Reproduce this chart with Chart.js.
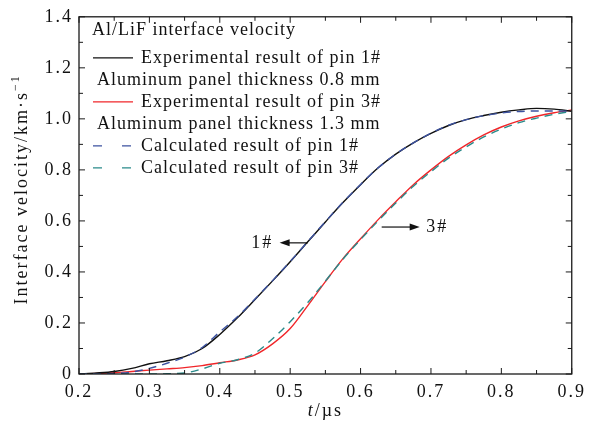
<!DOCTYPE html>
<html>
<head>
<meta charset="utf-8">
<script src="https://cdn.jsdelivr.net/npm/chart.js@4.4.0/dist/chart.umd.min.js"></script>
<style>
  html, body { margin: 0; padding: 0; background: #fff; }
  #wrap { width: 590px; height: 430px; }
</style>
</head>
<body>
<div id="wrap"><canvas id="chart" width="590" height="430"></canvas></div>
<script>
// time axis (µs), shared by all four curves
const times = [0.20, 0.225, 0.25, 0.275, 0.30, 0.325, 0.35, 0.375, 0.40, 0.425, 0.45, 0.475, 0.50, 0.525, 0.55,
               0.575, 0.60, 0.625, 0.65, 0.675, 0.70, 0.725, 0.75, 0.775, 0.80, 0.825, 0.85, 0.875, 0.90];

// interface velocity (km/s)
const expPin1 = [0.000, 0.004, 0.010, 0.022, 0.040, 0.052, 0.068, 0.100, 0.155, 0.220, 0.292, 0.365, 0.440, 0.518, 0.596,
                 0.672, 0.742, 0.808, 0.862, 0.906, 0.943, 0.974, 0.997, 1.013, 1.026, 1.035, 1.041, 1.038, 1.030];
const expPin3 = [0.000, 0.002, 0.005, 0.010, 0.015, 0.020, 0.025, 0.033, 0.044, 0.055, 0.075, 0.118, 0.178, 0.268, 0.362,
                 0.452, 0.530, 0.605, 0.675, 0.742, 0.800, 0.853, 0.898, 0.937, 0.968, 0.992, 1.010, 1.024, 1.035];
const calcPin1 = [0.000, 0.000, 0.002, 0.008, 0.022, 0.042, 0.066, 0.104, 0.165, 0.224, 0.294, 0.366, 0.441, 0.519, 0.597,
                  0.673, 0.743, 0.808, 0.862, 0.906, 0.944, 0.975, 0.997, 1.012, 1.023, 1.029, 1.031, 1.031, 1.030];
const calcPin3 = [0.000, 0.000, 0.000, 0.000, 0.000, 0.001, 0.004, 0.020, 0.042, 0.056, 0.082, 0.138, 0.205, 0.280, 0.364,
                  0.450, 0.527, 0.600, 0.670, 0.736, 0.793, 0.846, 0.890, 0.929, 0.960, 0.985, 1.003, 1.018, 1.030];

const xTicks = [0.2, 0.3, 0.4, 0.5, 0.6, 0.7, 0.8, 0.9];
const yTicks = [0, 0.2, 0.4, 0.6, 0.8, 1.0, 1.2, 1.4];

const legendTitle = "Al/LiF interface velocity";
const legendRows = [
  { text: "Experimental result of pin 1#", color: "#111111", dash: [] },
  { text: "Aluminum panel thickness 0.8 mm" },
  { text: "Experimental result of pin 3#", color: "#f0262a", dash: [] },
  { text: "Aluminum panel thickness 1.3 mm" },
  { text: "Calculated result of pin 1#", color: "#3c52a0", dash: [9, 20] },
  { text: "Calculated result of pin 3#", color: "#2a8a8a", dash: [9, 20] }
];

const FONT = "'Liberation Serif', 'Times New Roman', serif";

function pts(vals) { return times.map((t, i) => ({ x: t, y: vals[i] })); }

function arrow(ctx, x1, x2, y) {
  const dir = Math.sign(x2 - x1);
  ctx.beginPath();
  ctx.moveTo(x1, y);
  ctx.lineTo(x2 - dir * 8, y);
  ctx.stroke();
  ctx.beginPath();
  ctx.moveTo(x2, y);
  ctx.lineTo(x2 - dir * 10, y - 3.5);
  ctx.lineTo(x2 - dir * 10, y + 3.5);
  ctx.closePath();
  ctx.fill();
}

const decor = {
  id: "decor",
  beforeDraw(chart) { chart.ctx.letterSpacing = "2px"; },
  beforeDatasetsDraw(chart) { chart.ctx.letterSpacing = "0px"; },
  afterDraw(chart) {
    const ctx = chart.ctx;
    const a = chart.chartArea;
    const xs = chart.scales.x, ys = chart.scales.y;
    ctx.save();
    ctx.letterSpacing = "0px";

    // frame
    ctx.strokeStyle = "#1a1a1a";
    ctx.lineWidth = 1.3;
    ctx.setLineDash([]);
    ctx.strokeRect(a.left, a.top, a.right - a.left, a.bottom - a.top);

    // inward ticks on all four sides
    ctx.lineWidth = 1;
    ctx.beginPath();
    for (let i = 0; i <= 14; i++) {
      const y = ys.getPixelForValue(i * 0.1);
      const len = i % 2 === 0 ? 6 : 4;
      ctx.moveTo(a.left, y); ctx.lineTo(a.left + len, y);
      ctx.moveTo(a.right, y); ctx.lineTo(a.right - len, y);
    }
    for (let i = 0; i <= 14; i++) {
      const x = xs.getPixelForValue(0.2 + i * 0.05);
      const len = i % 2 === 0 ? 6 : 4;
      ctx.moveTo(x, a.bottom); ctx.lineTo(x, a.bottom - len);
      ctx.moveTo(x, a.top); ctx.lineTo(x, a.top + len);
    }
    ctx.stroke();

    // legend
    ctx.fillStyle = "#111";
    ctx.font = "18px " + FONT;
    ctx.letterSpacing = "1px";
    ctx.textBaseline = "middle";
    ctx.textAlign = "left";
    ctx.fillText(legendTitle, a.left + 13, a.top + 13);
    legendRows.forEach((row, i) => {
      const y = a.top + 41 + i * 22;
      if (row.color) {
        ctx.strokeStyle = row.color;
        ctx.lineWidth = 1.3;
        ctx.setLineDash(row.dash);
        ctx.beginPath();
        ctx.moveTo(a.left + 14, y);
        ctx.lineTo(a.left + 54, y);
        ctx.stroke();
        ctx.setLineDash([]);
        ctx.fillText(row.text, a.left + 62, y);
      } else {
        ctx.fillText(row.text, a.left + 18, y);
      }
    });

    // pin annotations
    ctx.strokeStyle = "#111";
    ctx.lineWidth = 1.2;
    const yA1 = ys.getPixelForValue(0.514);
    arrow(ctx, xs.getPixelForValue(0.525), xs.getPixelForValue(0.485), yA1);
    ctx.textAlign = "center";
    ctx.letterSpacing = "2px";
    ctx.fillText("1#", xs.getPixelForValue(0.459) + 1, yA1);
    const yA3 = ys.getPixelForValue(0.576);
    arrow(ctx, xs.getPixelForValue(0.630), xs.getPixelForValue(0.684), yA3);
    ctx.fillText("3#", xs.getPixelForValue(0.7075) + 1, yA3);

    // x title: t/µs
    ctx.letterSpacing = "2px";
    ctx.font = "italic 18px " + FONT;
    const tw = ctx.measureText("t").width;
    ctx.font = "18px " + FONT;
    const rw = ctx.measureText("/µs").width;
    const cx = (a.left + a.right) / 2;
    let x0 = cx - (tw + rw) / 2;
    ctx.textAlign = "left";
    ctx.font = "italic 18px " + FONT;
    ctx.fillText("t", x0, 411);
    ctx.font = "18px " + FONT;
    ctx.fillText("/µs", x0 + tw, 411);

    // y title: Interface velocity/km·s^-1
    ctx.translate(22, (a.top + a.bottom) / 2 - 6);
    ctx.rotate(-Math.PI / 2);
    ctx.letterSpacing = "2px";
    ctx.font = "18px " + FONT;
    const main = "Interface velocity/km·s";
    const mw = ctx.measureText(main).width;
    ctx.font = "12px " + FONT;
    const sw = ctx.measureText("\u22121").width;
    x0 = -(mw + sw) / 2;
    ctx.font = "18px " + FONT;
    ctx.fillText(main, x0, 0);
    ctx.font = "12px " + FONT;
    ctx.fillText("\u22121", x0 + mw, -6);

    ctx.restore();
  }
};

new Chart(document.getElementById("chart"), {
  type: "line",
  data: {
    datasets: [
      { label: "Calculated result of pin 1#", data: pts(calcPin1), borderColor: "#3c52a0", borderDash: [8, 6], order: 0 },
      { label: "Calculated result of pin 3#", data: pts(calcPin3), borderColor: "#2a8a8a", borderDash: [8, 6], order: 0 },
      { label: "Experimental result of pin 1#", data: pts(expPin1), borderColor: "#111111", order: 1 },
      { label: "Experimental result of pin 3#", data: pts(expPin3), borderColor: "#f0262a", order: 1 }
    ]
  },
  options: {
    responsive: false,
    animation: false,
    layout: { padding: { top: 12, right: 13, left: 0, bottom: 0 } },
    elements: {
      point: { radius: 0 },
      line: { borderWidth: 1.4, tension: 0.4, cubicInterpolationMode: "monotone", fill: false }
    },
    plugins: { legend: { display: false }, tooltip: { enabled: false } },
    font: { family: FONT, size: 18 },
    scales: {
      x: {
        type: "linear", min: 0.2, max: 0.9,
        afterBuildTicks: s => { s.ticks = xTicks.map(v => ({ value: v })); },
        afterFit: s => { s.height = 56; },
        grid: { display: false, drawTicks: false },
        border: { display: false },
        ticks: { padding: 7, color: "#111", font: { family: FONT, size: 18 }, maxRotation: 0, autoSkip: false,
                 callback: v => v.toFixed(1) }
      },
      y: {
        min: 0, max: 1.4,
        afterBuildTicks: s => { s.ticks = yTicks.map(v => ({ value: v })); },
        afterFit: s => { s.width = 79; },
        grid: { display: false, drawTicks: false },
        border: { display: false },
        ticks: { padding: 6, color: "#111", font: { family: FONT, size: 18 }, autoSkip: false,
                 callback: v => v === 0 ? "0" : v.toFixed(1) }
      }
    }
  },
  plugins: [decor]
});
</script>
</body>
</html>
